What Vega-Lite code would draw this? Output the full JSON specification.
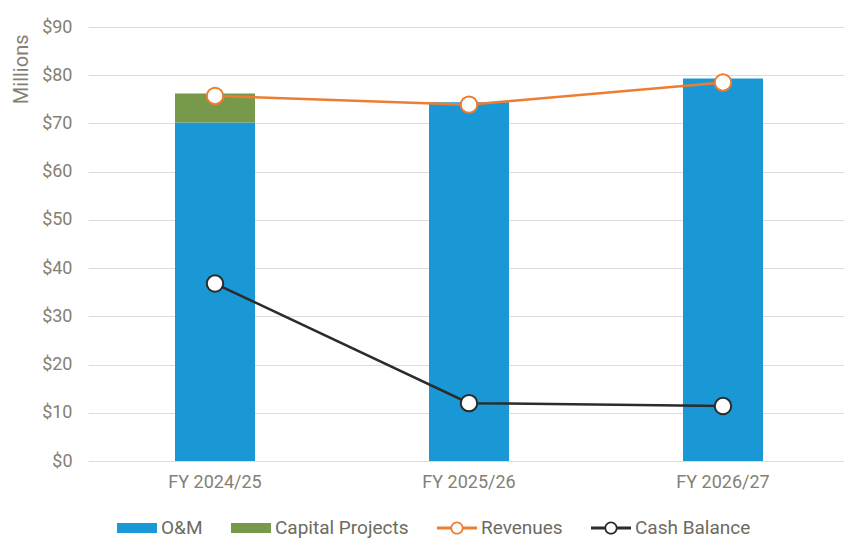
{
  "$schema": "https://vega.github.io/schema/vega-lite/v6.json",
  "autosize": {"type": "none"},
  "width": 762,
  "height": 434,
  "padding": {"left": 88, "top": 27, "right": 0, "bottom": 78},
  "background": "white",
  "config": {
    "font": "Roboto",
    "view": {"stroke": null}
  },
  "data": {
    "values": [
      {"year": "FY 2024/25", "series": "O&M", "value": 70.2},
      {"year": "FY 2024/25", "series": "Capital Projects", "value": 6.0},
      {"year": "FY 2025/26", "series": "O&M", "value": 74.4},
      {"year": "FY 2025/26", "series": "Capital Projects", "value": 0},
      {"year": "FY 2026/27", "series": "O&M", "value": 79.3},
      {"year": "FY 2026/27", "series": "Capital Projects", "value": 0},
      {"year": "FY 2024/25", "series": "Revenues", "value": 75.7},
      {"year": "FY 2025/26", "series": "Revenues", "value": 73.9},
      {"year": "FY 2026/27", "series": "Revenues", "value": 78.5},
      {"year": "FY 2024/25", "series": "Cash Balance", "value": 36.8},
      {"year": "FY 2025/26", "series": "Cash Balance", "value": 12.0},
      {"year": "FY 2026/27", "series": "Cash Balance", "value": 11.4}
    ]
  },
  "encoding": {
    "x": {
      "field": "year",
      "type": "nominal",
      "scale": {"paddingInner": 0.685, "paddingOuter": 0.3425},
      "axis": {
        "title": null,
        "labelAngle": 0,
        "labelFontSize": 18,
        "labelColor": "#858074",
        "labelPadding": 12,
        "ticks": false,
        "domain": false
      }
    },
    "y": {
      "field": "value",
      "type": "quantitative",
      "scale": {"domain": [0, 90], "nice": false},
      "axis": {
        "title": "Millions",
        "titleFontSize": 20,
        "titleFontWeight": "normal",
        "titleColor": "#858074",
        "titleAnchor": "end",
        "titleY": 7,
        "titlePadding": 10,
        "values": [0, 10, 20, 30, 40, 50, 60, 70, 80, 90],
        "labelExpr": "'$' + datum.value",
        "labelFontSize": 18,
        "labelColor": "#858074",
        "labelPadding": 16,
        "ticks": false,
        "domain": false,
        "gridColor": "#dcdcdc",
        "gridWidth": 1
      }
    },
    "color": {
      "field": "series",
      "type": "nominal",
      "scale": {
        "domain": ["O&M", "Capital Projects", "Revenues", "Cash Balance"],
        "range": ["#1a98d5", "#76994a", "#ed7d31", "#2b2b2b"]
      },
      "legend": {
        "title": null,
        "orient": "none",
        "direction": "horizontal",
        "legendX": 29,
        "legendY": 481,
        "labelFontSize": 19,
        "labelColor": "#6e6a60",
        "labelOffset": 4,
        "columnPadding": 28,
        "symbolSize": 1600,
        "encode": {
          "symbols": {
            "update": {
              "shape": {"signal": "indexof(['O&M','Capital Projects'], datum.value) >= 0 ? 'M-1,-0.25H1V0.25H-1Z' : 'M-1,-0.075H-0.3V0.075H-1Z M0.3,-0.075H1V0.075H0.3Z M-0.33,0A0.33,0.33 0 1,1 0.33,0A0.33,0.33 0 1,1 -0.33,0Z M-0.24,0A0.24,0.24 0 1,0 0.24,0A0.24,0.24 0 1,0 -0.24,0Z'"},
              "fill": {"signal": "scale('color', datum.value)"},
              "stroke": {"value": "transparent"},
              "strokeWidth": {"value": 0},
              "opacity": {"value": 1},
              "fillOpacity": {"value": 1}
            }
          }
        }
      }
    }
  },
  "layer": [
    {
      "transform": [{"filter": "datum.series === 'O&M' || datum.series === 'Capital Projects'"}],
      "mark": {"type": "bar"},
      "encoding": {
        "y": {"field": "value", "type": "quantitative", "stack": "zero"},
        "order": {"field": "series", "sort": "descending"}
      }
    },
    {
      "transform": [{"filter": "datum.series === 'Revenues' || datum.series === 'Cash Balance'"}],
      "mark": {"type": "line", "strokeWidth": 2.5},
      "encoding": {}
    },
    {
      "transform": [{"filter": "datum.series === 'Revenues' || datum.series === 'Cash Balance'"}],
      "mark": {"type": "point", "filled": false, "fill": "white", "opacity": 1, "size": 270, "strokeWidth": 2},
      "encoding": {}
    }
  ]
}
